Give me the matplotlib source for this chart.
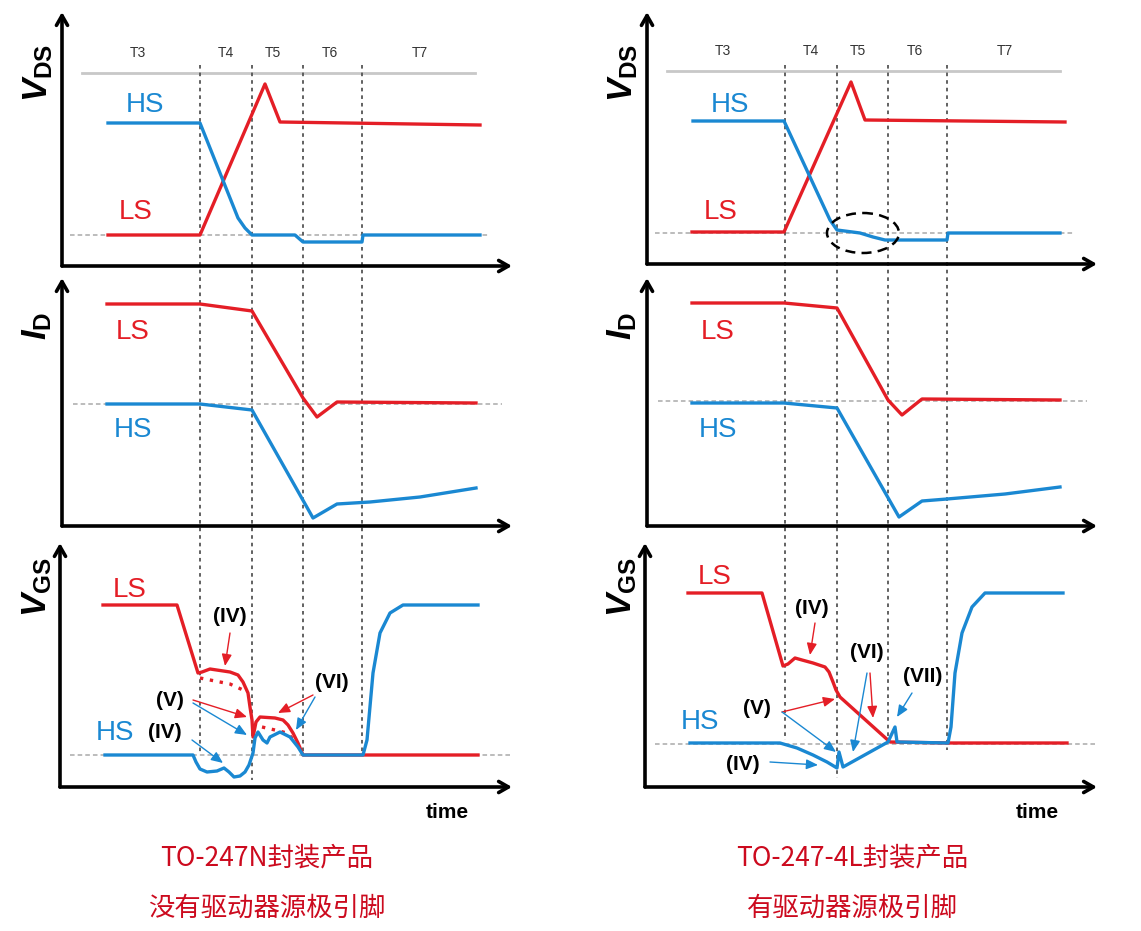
import matplotlib as mpl
import matplotlib.pyplot as plt
from matplotlib.patches import Ellipse

RED = "#e41e26"
BLUE = "#1a88d2"
CAP_RED = "#cc0a1e"

# ---- data (time in px-like units, value in px-like units, y grows downward) ----
# interval boundaries and labels
T_EDGES = [200, 252, 303, 362]
T_NAMES = ["T3", "T4", "T5", "T6", "T7"]
T_POS = [138, 226, 273, 330, 420]
T_EDGE_END_L = [753, 780, 755, 753]
T_EDGE_END_R = [740, 778, 743, 750]

# V_DS, left column (TO-247N)
VDS_HS_T_L = [108, 200, 238, 245, 252, 295, 303, 362, 363, 480]
VDS_HS_L = [123, 123, 218, 228, 235, 235, 242, 242, 235, 235]
VDS_LS_T_L = [108, 200, 265, 280, 480]
VDS_LS_L = [235, 235, 84, 122, 125]
# V_DS, right column (TO-247-4L)
VDS_HS_T_R = [108, 199, 245, 252, 275, 288, 300, 362, 363, 475]
VDS_HS_R = [121, 121, 220, 230, 233, 237, 240, 240, 233, 233]
VDS_LS_T_R = [107, 199, 266, 280, 480]
VDS_LS_R = [232, 232, 82, 120, 122]

# I_D
ID_LS_T_L = [107, 200, 252, 303, 317, 337, 476]
ID_LS_L = [304, 304, 311, 398, 417, 402, 403]
ID_HS_T_L = [107, 200, 252, 313, 337, 370, 420, 476]
ID_HS_L = [404, 404, 410, 518, 504, 502, 497, 488]
ID_LS_T_R = [107, 199, 252, 303, 317, 337, 475]
ID_LS_R = [303, 303, 308, 400, 415, 399, 400]
ID_HS_T_R = [107, 199, 252, 314, 337, 362, 420, 475]
ID_HS_R = [403, 403, 408, 517, 501, 499, 494, 487]

# V_GS, left
VGS_LS_T_L = [103, 177, 198, 202, 210, 230, 238, 243, 248, 250, 252, 253, 256, 260,
              275, 283, 288, 293, 298, 303, 362, 478]
VGS_LS_L = [605, 605, 673, 672, 669, 672, 675, 682, 693, 707, 720, 737, 722, 717,
            718, 720, 725, 733, 743, 755, 755, 755]
VGS_LS_DOT1_T = [200, 215, 230, 243]
VGS_LS_DOT1 = [678, 681, 684, 690]
VGS_LS_DOT2_T = [262, 275, 287, 295]
VGS_LS_DOT2 = [727, 730, 733, 741]
VGS_HS_T_L = [105, 193, 196, 200, 207, 217, 224, 229, 234, 240, 245, 249, 253, 255,
              258, 263, 267, 270, 280, 290, 298, 303, 363, 367, 373, 380, 390, 403, 478]
VGS_HS_L = [755, 755, 762, 769, 772, 771, 768, 772, 777, 776, 772, 765, 753, 738,
            732, 740, 743, 737, 732, 737, 747, 755, 755, 740, 673, 633, 613, 605, 605]

# V_GS, right
VGS_LS_T_R = [103, 177, 198, 203, 210, 217, 228, 240, 244, 248, 251, 255, 305, 363, 482]
VGS_LS_R = [593, 593, 666, 664, 658, 660, 663, 667, 672, 682, 690, 697, 742, 743, 743]
VGS_HS_T_R = [105, 195, 212, 228, 242, 252, 254, 258, 303, 310, 312, 363, 366, 370,
              377, 387, 400, 478]
VGS_HS_R = [743, 743, 748, 755, 762, 768, 752, 767, 742, 727, 742, 743, 727, 673,
            633, 607, 593, 593]

# annotation texts and arrows: (label, x, y)
NOTES_L = [("(IV)", 230, 617), ("(V)", 170, 700), ("(IV)", 165, 733), ("(VI)", 332, 682)]
ARROWS_L = [  # (x0, y0, x1, y1, color)
    (230, 633, 225, 666, RED),
    (193, 700, 247, 717, RED),
    (193, 703, 247, 735, BLUE),
    (313, 695, 278, 713, RED),
    (315, 697, 296, 730, BLUE),
    (192, 740, 223, 763, BLUE),
]
NOTES_R = [("(IV)", 227, 608), ("(V)", 172, 708), ("(VI)", 282, 653),
           ("(VII)", 338, 677), ("(IV)", 158, 765)]
ARROWS_R = [
    (230, 623, 225, 655, RED),
    (197, 712, 250, 699, RED),
    (197, 712, 251, 752, BLUE),
    (285, 673, 288, 718, RED),
    (282, 673, 268, 752, BLUE),
    (327, 693, 312, 717, BLUE),
    (185, 762, 233, 765, BLUE),
]

CAPTIONS_L = ["TO-247N封装产品", "没有驱动器源极引脚"]
CAPTIONS_R = ["TO-247-4L封装产品", "有驱动器源极引脚"]

# ---- style ----
mpl.rcParams["mathtext.fontset"] = "custom"
mpl.rcParams["mathtext.it"] = "Liberation Sans:italic:bold"
mpl.rcParams["mathtext.rm"] = "Liberation Sans:bold"
mpl.rcParams["mathtext.bf"] = "Liberation Sans:bold"
SANS = ["Liberation Sans", "DejaVu Sans"]
CJK = ["Noto Sans CJK SC", "DejaVu Sans"]

fig = plt.figure(figsize=(11.41, 9.31), dpi=100)
W = 556 / 1141
ax_l = fig.add_axes([0, 0, W, 1])
ax_r = fig.add_axes([585 / 1141, 0, W, 1])


def axis_arrow(ax, x0, y0, x1, y1):
    ax.annotate("", xy=(x1, y1), xytext=(x0, y0),
                arrowprops=dict(arrowstyle="->,head_length=0.7,head_width=0.4",
                                lw=2.6, color="black", shrinkA=0, shrinkB=0))


def small_arrow(ax, x0, y0, x1, y1, color):
    ax.annotate("", xy=(x1, y1), xytext=(x0, y0),
                arrowprops=dict(arrowstyle="-|>,head_length=0.7,head_width=0.3",
                                lw=1.0, color=color, shrinkA=0, shrinkB=0))


def draw_column(ax, side):
    ax.set_xlim(0, 556)
    ax.set_ylim(931, 0)
    ax.axis("off")
    right = side == "R"
    dy = -2 if right else 0

    # time interval markers
    ends = T_EDGE_END_R if right else T_EDGE_END_L
    for x, y_end in zip(T_EDGES, ends):
        ax.plot([x, x], [65, y_end], color="#555555", lw=1.3,
                linestyle=(0, (2, 2.2)), zorder=1)
    for name, x in zip(T_NAMES, T_POS):
        ax.text(x, 53 + dy, name, ha="center", va="center", fontsize=10,
                color="#333333", family=SANS)
    ax.plot([82, 475], [73 + dy, 73 + dy], color="#c8c8c8", lw=2, zorder=0)

    # axes
    axis_arrow(ax, 62, 266 + dy, 512, 266 + dy)
    axis_arrow(ax, 62, 266 + dy, 62, 12)
    axis_arrow(ax, 62, 526, 512, 526)
    axis_arrow(ax, 62, 526, 62, 278)
    axis_arrow(ax, 60, 787, 512, 787)
    axis_arrow(ax, 60, 787, 60, 543)

    # baselines
    base_vds = 233 if right else 235
    base_id = 401 if right else 404
    base_vgs = 744 if right else 755
    for yb, x0, x1 in [(base_vds, 70, 490), (base_id, 73, 502), (base_vgs, 70, 512)]:
        ax.plot([x0, x1], [yb, yb], color="#aaaaaa", lw=1.1,
                linestyle=(0, (3, 2)), zorder=0)

    # V_DS
    if right:
        ax.plot(VDS_LS_T_R, VDS_LS_R, color=RED, lw=2.4, zorder=3)
        ax.plot(VDS_HS_T_R, VDS_HS_R, color=BLUE, lw=2.4, zorder=3)
        ax.add_patch(Ellipse((278, 233), 72, 40, fill=False, ec="black",
                             lw=1.8, linestyle=(0, (4, 2.5)), zorder=4))
    else:
        ax.plot(VDS_LS_T_L, VDS_LS_L, color=RED, lw=2.4, zorder=3)
        ax.plot(VDS_HS_T_L, VDS_HS_L, color=BLUE, lw=2.4, zorder=3)
    ax.text(145, 105, "HS", color=BLUE, fontsize=20, ha="center", va="center", family=SANS)
    ax.text(136, 212, "LS", color=RED, fontsize=20, ha="center", va="center", family=SANS)
    ax.text(38, 73, r"$V_{\rm DS}$", rotation=90, fontsize=25, ha="center", va="center")

    # I_D
    if right:
        ax.plot(ID_LS_T_R, ID_LS_R, color=RED, lw=2.4, zorder=3)
        ax.plot(ID_HS_T_R, ID_HS_R, color=BLUE, lw=2.4, zorder=3)
    else:
        ax.plot(ID_LS_T_L, ID_LS_L, color=RED, lw=2.4, zorder=3)
        ax.plot(ID_HS_T_L, ID_HS_L, color=BLUE, lw=2.4, zorder=3)
    ax.text(133, 332, "LS", color=RED, fontsize=20, ha="center", va="center", family=SANS)
    ax.text(133, 430, "HS", color=BLUE, fontsize=20, ha="center", va="center", family=SANS)
    ax.text(37, 326, r"$I_{\rm D}$", rotation=90, fontsize=25, ha="center", va="center")

    # V_GS
    if right:
        ax.plot(VGS_LS_T_R, VGS_LS_R, color=RED, lw=2.4, zorder=3)
        ax.plot(VGS_HS_T_R, VGS_HS_R, color=BLUE, lw=2.4, zorder=4)
        notes, arrows = NOTES_R, ARROWS_R
        ls_xy, hs_xy = (130, 577), (115, 722)
    else:
        ax.plot(VGS_LS_T_L, VGS_LS_L, color=RED, lw=2.4, zorder=3)
        ax.plot(VGS_LS_DOT1_T, VGS_LS_DOT1, color=RED, lw=2.4,
                linestyle=(0, (1, 2)), zorder=3)
        ax.plot(VGS_LS_DOT2_T, VGS_LS_DOT2, color=RED, lw=2.4,
                linestyle=(0, (1, 2)), zorder=3)
        ax.plot(VGS_HS_T_L, VGS_HS_L, color=BLUE, lw=2.4, zorder=4)
        notes, arrows = NOTES_L, ARROWS_L
        ls_xy, hs_xy = (130, 590), (115, 733)
    ax.text(*ls_xy, "LS", color=RED, fontsize=20, ha="center", va="center", family=SANS)
    ax.text(*hs_xy, "HS", color=BLUE, fontsize=20, ha="center", va="center", family=SANS)
    for label, x, y in notes:
        ax.text(x, y, label, fontsize=15, fontweight="bold", ha="center",
                va="center", family=SANS, zorder=6)
    for x0, y0, x1, y1, c in arrows:
        small_arrow(ax, x0, y0, x1, y1, c)
    ax.text(37, 587, r"$V_{\rm GS}$", rotation=90, fontsize=25, ha="center", va="center")
    ax.text(452 if right else 447, 812, "time", fontsize=15, fontweight="bold",
            ha="center", va="center", family=SANS)

    # captions
    caps = CAPTIONS_R if right else CAPTIONS_L
    ax.text(267, 858, caps[0], color=CAP_RED, fontsize=19, ha="center",
            va="center", family=CJK)
    ax.text(267, 908, caps[1], color=CAP_RED, fontsize=19, ha="center",
            va="center", family=CJK)


draw_column(ax_l, "L")
draw_column(ax_r, "R")

fig.savefig("out.png", dpi=100, facecolor="white")
